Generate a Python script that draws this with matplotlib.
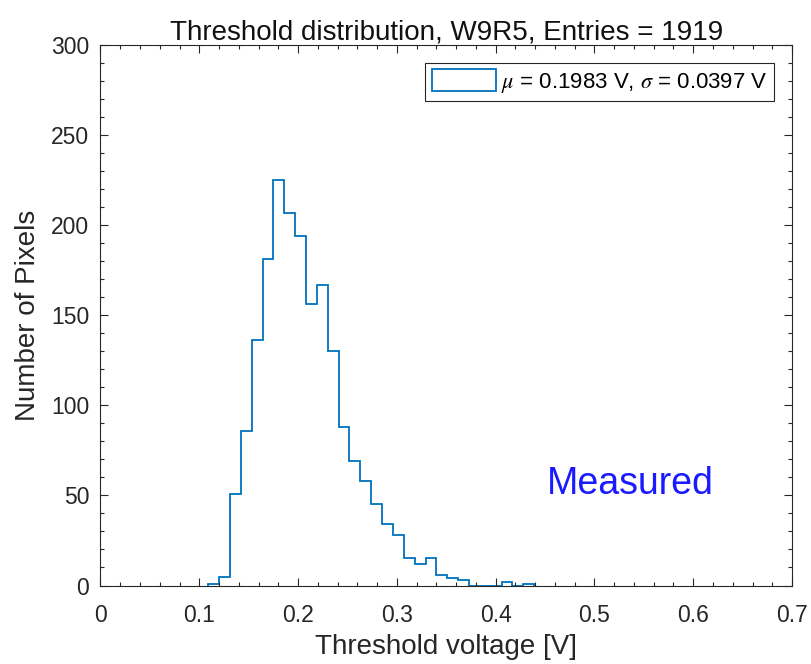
import numpy as np
import matplotlib
matplotlib.use("Agg")
import matplotlib.pyplot as plt
from matplotlib.patches import Patch
from matplotlib.ticker import MultipleLocator

# histogram bins (threshold voltage, V) and counts per bin
bin_edges = np.linspace(0.109, 0.439, 31)
counts = [1, 5, 51, 86, 136, 181, 225, 207, 194, 156,
          167, 130, 88, 69, 58, 45, 34, 28, 15, 12,
          15, 6, 4, 3, 0, 0, 0, 2, 0, 1]

title = "Threshold distribution, W9R5, Entries = 1919"
legend_label = r"$\mu$ = 0.1983 V, $\sigma$ = 0.0397 V"
x_ticks = [0, 0.1, 0.2, 0.3, 0.4, 0.5, 0.6, 0.7]
y_ticks = [0, 50, 100, 150, 200, 250, 300]

plt.rcParams['font.family'] = ['Liberation Sans', 'DejaVu Sans']
plt.rcParams['mathtext.fontset'] = 'stix'

fig = plt.figure(figsize=(8.11, 6.64), dpi=100)
ax = fig.add_axes([0.1239, 0.1182, 0.8527, 0.814])

blue = '#0072BD'
ax.stairs(counts, bin_edges, baseline=0, color=blue, linewidth=1.3)

ax.set_xlim(0, 0.7)
ax.set_ylim(0, 300)
ax.set_xticks(x_ticks)
ax.set_xticklabels([f"{v:g}" for v in x_ticks])
ax.set_yticks(y_ticks)
ax.xaxis.set_minor_locator(MultipleLocator(0.02))
ax.yaxis.set_minor_locator(MultipleLocator(10))
ax.tick_params(which='both', direction='in', top=True, right=True,
               colors='#262626', labelcolor='#262626', labelsize=16.5, width=0.8)
ax.tick_params(which='major', length=6)
ax.tick_params(which='minor', length=3)
ax.tick_params(axis='x', which='major', pad=13)
ax.tick_params(axis='y', which='major', pad=8)
for s in ax.spines.values():
    s.set_color('#262626')
    s.set_linewidth(0.8)

ax.set_title(title, fontsize=20, color='#111111', pad=3)
ax.set_xlabel("Threshold voltage [V]", fontsize=20, color='#262626', labelpad=5)
ax.set_ylabel("Number of Pixels", fontsize=20, color='#262626', labelpad=7)

handle = Patch(facecolor='white', edgecolor=blue, linewidth=1.3)
leg = ax.legend([handle], [legend_label], loc='upper right', fontsize=16,
                fancybox=False, edgecolor='#262626', framealpha=1,
                handlelength=2.9, handleheight=1.1, handletextpad=0.2,
                borderpad=0.3, borderaxespad=0.8)
leg.get_frame().set_linewidth(0.8)

ax.text(0.5366, 56.4, "Measured", color='#1a1aff', fontsize=27,
        ha='center', va='center')

fig.savefig("out.png", dpi=100)
